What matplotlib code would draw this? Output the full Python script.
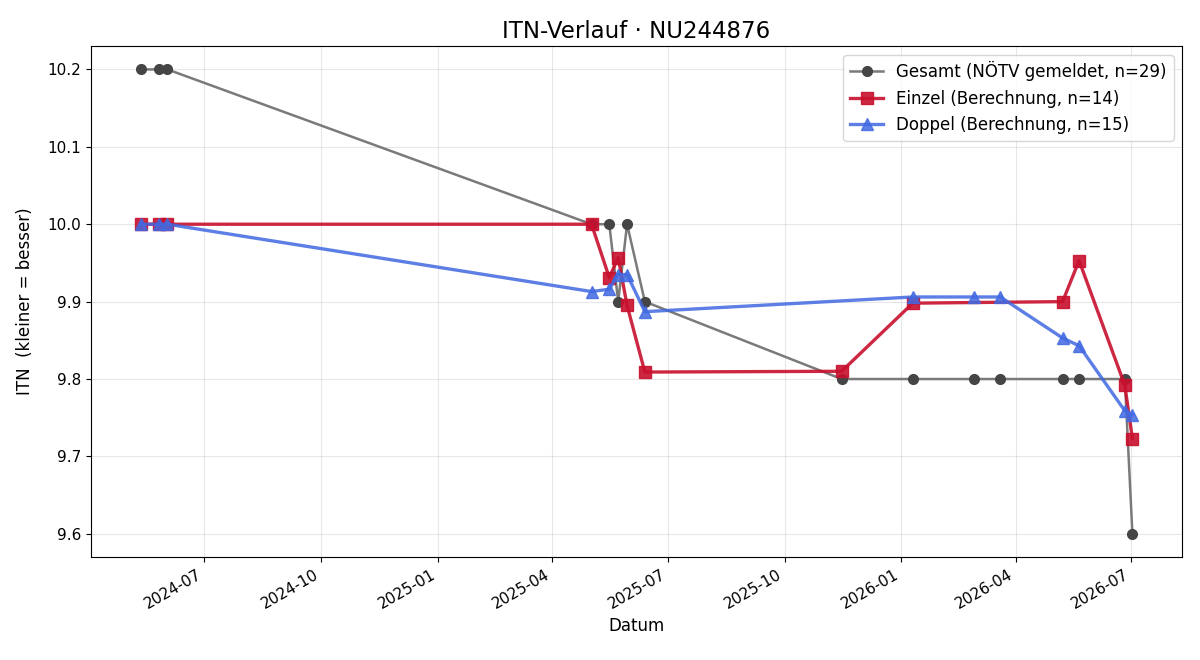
import matplotlib
matplotlib.use("Agg")
import matplotlib.pyplot as plt
import matplotlib.dates as mdates
import pandas as pd

# Gesamt (all reported dates)
gesamt_dates = ["2024-05-12", "2024-05-26", "2024-06-02", "2025-05-02", "2025-05-16",
                "2025-05-23", "2025-05-30", "2025-06-13", "2025-11-15", "2026-01-10",
                "2026-02-27", "2026-03-20", "2026-05-08", "2026-05-21", "2026-06-26",
                "2026-07-02"]
gesamt_vals = [10.2, 10.2, 10.2, 10.0, 10.0, 9.9, 10.0, 9.9, 9.8, 9.8,
               9.8, 9.8, 9.8, 9.8, 9.8, 9.6]

einzel_dates = ["2024-05-12", "2024-05-26", "2024-06-02", "2025-05-02", "2025-05-16",
                "2025-05-23", "2025-05-30", "2025-06-13", "2025-11-15", "2026-01-10",
                "2026-05-08", "2026-05-21", "2026-06-26", "2026-07-02"]
einzel_vals = [10.0, 10.0, 10.0, 10.0, 9.931, 9.957, 9.895, 9.809, 9.810, 9.898,
               9.900, 9.953, 9.792, 9.723]

doppel_dates = ["2024-05-12", "2024-05-26", "2024-06-02", "2025-05-02", "2025-05-16",
                "2025-05-23", "2025-05-30", "2025-06-13", "2026-01-10", "2026-02-27",
                "2026-03-20", "2026-05-08", "2026-05-21", "2026-06-26", "2026-07-02"]
doppel_vals = [10.0, 10.0, 10.0, 9.913, 9.916, 9.935, 9.935, 9.887, 9.906, 9.906,
               9.906, 9.853, 9.843, 9.759, 9.754]

fig, ax = plt.subplots(figsize=(12, 6.6), dpi=100)

ax.plot(pd.to_datetime(gesamt_dates), gesamt_vals, marker="o", color="#7a7a7a",
        mfc="#454545", mec="#454545", lw=1.8, ms=7,
        label="Gesamt (NÖTV gemeldet, n=29)")
ax.plot(pd.to_datetime(einzel_dates), einzel_vals, marker="s", color="#c8102e",
        alpha=0.9, lw=2.4, ms=8, label="Einzel (Berechnung, n=14)")
ax.plot(pd.to_datetime(doppel_dates), doppel_vals, marker="^", color="#4169e1",
        alpha=0.85, lw=2.4, ms=8, label="Doppel (Berechnung, n=15)")

ax.set_title("ITN-Verlauf · NU244876", fontsize=16.5)
ax.set_xlabel("Datum", fontsize=12)
ax.set_ylabel("ITN  (kleiner = besser)", fontsize=12, labelpad=10)
ax.tick_params(labelsize=11)
ax.grid(True, alpha=0.3)
ax.xaxis.set_major_locator(mdates.MonthLocator(bymonth=[1, 4, 7, 10]))
ax.xaxis.set_major_formatter(mdates.DateFormatter("%Y-%m"))
ax.legend(loc="upper right", fontsize=12)
fig.autofmt_xdate()
fig.subplots_adjust(left=0.076, right=0.985, top=0.930, bottom=0.156)
fig.savefig("out.png")
